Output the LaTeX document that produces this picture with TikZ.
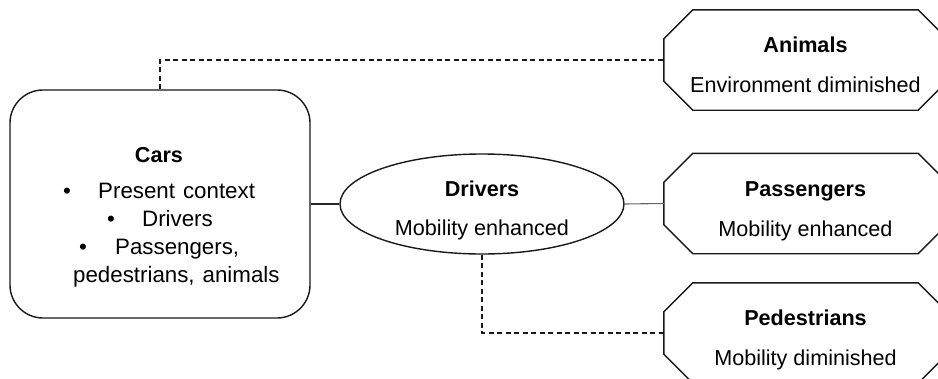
\documentclass[tikz,border=0pt]{standalone}
\usepackage{fontspec}
\setmainfont{Liberation Sans}
\usetikzlibrary{shapes.geometric}

% Outline of a chamfered box around a placeholder node
\newcommand\octoutline[1]{%
  \draw[outline]
    ([xshift=29pt]#1.north west) -- ([xshift=-29pt]#1.north east)
    -- ([yshift=-29pt]#1.north east) -- ([yshift=29pt]#1.south east)
    -- ([xshift=-29pt]#1.south east) -- ([xshift=29pt]#1.south west)
    -- ([yshift=29pt]#1.south west) -- ([yshift=-29pt]#1.north west)
    -- cycle;}
% Slightly larger type with wider word spaces for the list in the cars box
\newcommand\listsetup{\fontsize{22.3}{26}\selectfont
  \spaceskip=0.36em plus 0.1em minus 0.05em\relax}

\begin{document}
\fontsize{21.6}{26}\selectfont
\begin{tikzpicture}[x=1pt,y=-1pt,
  outline/.style={draw=black!90, line width=1.4pt},
  carsbox/.style={rectangle, rounded corners=33pt, outline,
    minimum width=300pt, minimum height=228pt, inner sep=0pt},
  oval/.style={ellipse, outline, minimum width=284pt,
    minimum height=100pt, inner sep=0pt},
  octslot/.style={rectangle, minimum width=283pt,
    minimum height=100pt, inner sep=0pt},
  title/.style={font=\bfseries, anchor=base, inner sep=0pt},
  body/.style={anchor=base, inner sep=0pt},
  listfont/.style={font=\listsetup},
  bodyleft/.style={anchor=base west, inner sep=0pt, listfont},
  link/.style={draw=black!85, line width=1.2pt},
  greylink/.style={draw=black!60, line width=1.1pt},
  dashlink/.style={draw=black!90, line width=1.2pt,
    dash pattern=on 5pt off 3.5pt}]
\useasboundingbox (0,0) rectangle (938,378);
\clip (0,0) rectangle (938,378);

% shapes
\node[carsbox] (cars) at (160,204) {};
\node[oval] (drivers) at (482,204) {};
\node[octslot] (animals) at (805.5,60) {};
\node[octslot] (passengers) at (805.5,203.5) {};
\node[octslot] (pedestrians) at (805.5,333) {};
\octoutline{animals}
\octoutline{passengers}
\octoutline{pedestrians}

% text of the cars box
\node[title] (carsT) at (159,162.5) {Cars};
\node[body, listfont] (b1) at (67,198) {•};
\node[bodyleft] (l1) at (98,198) {Present context};
\node[body, listfont] (b2) at (111,226) {•};
\node[bodyleft] (l2) at (142,226) {Drivers};
\node[body, listfont] (b3) at (83,254) {•};
\node[bodyleft] (l3) at (115,254) {Passengers,};
\node[bodyleft] (l4) at (73,282) {pedestrians, animals};

% text of the other shapes
\node[title] (driversT) at ([yshift=7.5pt]drivers.center) {Drivers};
\node[body] (driversS) at ([yshift=-31.5pt]drivers.center) {Mobility enhanced};
\node[title] (animalsT) at ([yshift=7.5pt]animals.center) {Animals};
\node[body] (animalsS) at ([yshift=-32.5pt]animals.center) {Environment diminished};
\node[title] (passengersT) at ([yshift=7.5pt]passengers.center) {Passengers};
\node[body] (passengersS) at ([yshift=-32.5pt]passengers.center) {Mobility enhanced};
\node[title] (pedestriansT) at ([yshift=7.5pt]pedestrians.center) {Pedestrians};
\node[body] (pedestriansS) at ([yshift=-32.5pt]pedestrians.center) {Mobility diminished};

% connectors
\draw[link] (cars.east) -- (drivers.west);
\draw[greylink] (drivers.east) -- (passengers.west);
\draw[dashlink] (cars.north) |- (animals.west);
\draw[dashlink] (drivers.south) |- (pedestrians.west);
\end{tikzpicture}
\end{document}
